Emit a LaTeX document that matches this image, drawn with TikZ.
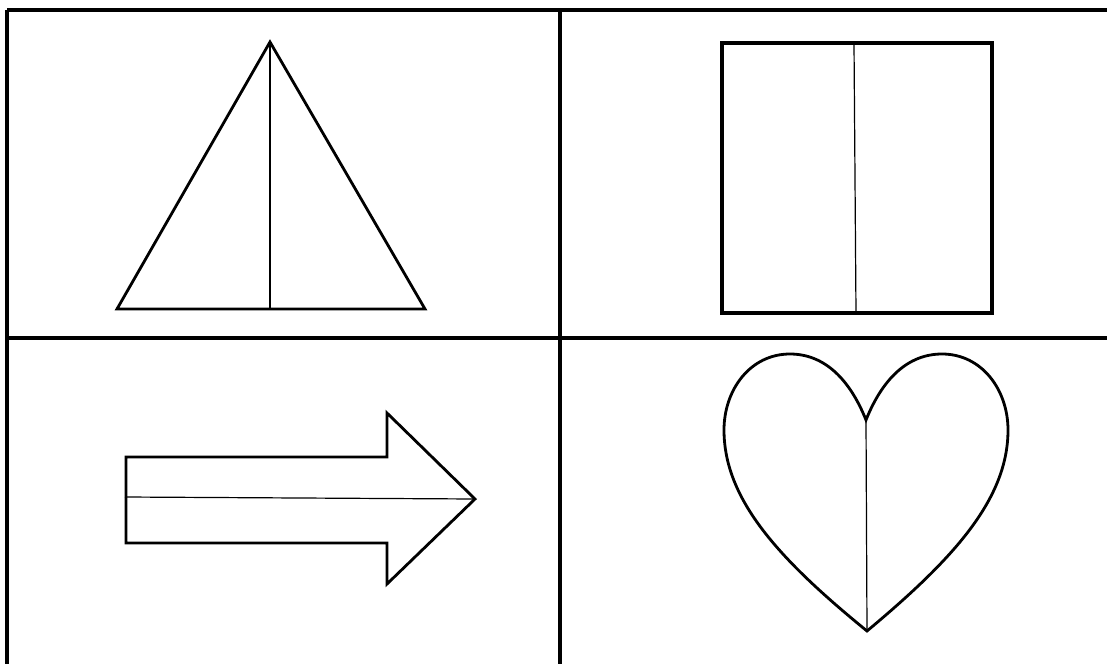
\documentclass[tikz,border=0pt]{standalone}
\begin{document}
\begin{tikzpicture}[x=0.75pt,y=-0.75pt,
  grid/.style={line width=2.4pt},
  shapeline/.style={line width=2.1pt, line join=miter},
  midline/.style={line width=0.9pt}]
\useasboundingbox (0,0) rectangle (1107,664);
\fill[white] (0,0) rectangle (1107,664);
\clip (0,0) rectangle (1107,664);
% table grid
\draw[grid] (7,10) -- (1115,10);
\draw[grid] (7,10) -- (7,670);
\draw[grid] (560,10) -- (560,670);
\draw[grid] (7,338) -- (1115,338);
% triangle
\draw[shapeline] (270,42) -- (425,309) -- (117,309) -- cycle;
\draw[midline] (270,42) -- (270,309);
% square
\draw[shapeline, line width=2.3pt] (722,43) rectangle (992,313);
\draw[midline] (854,43) -- (856,313);
% arrow
\draw[shapeline] (126,457) -- (387,457) -- (387,413) -- (475,499) -- (387,584) -- (387,543) -- (126,543) -- cycle;
\draw[midline] (125,497) -- (475,499);
% heart
\draw[shapeline] (866,420) .. controls (850,380) and (825,354) .. (790,354)
  .. controls (750,354) and (724,390) .. (724,430)
  .. controls (724,500) and (780,560) .. (867,631)
  .. controls (952,560) and (1008,500) .. (1008,430)
  .. controls (1008,390) and (982,354) .. (942,354)
  .. controls (907,354) and (882,380) .. cycle;
\draw[midline] (866,420) -- (867,631);
\end{tikzpicture}
\end{document}
